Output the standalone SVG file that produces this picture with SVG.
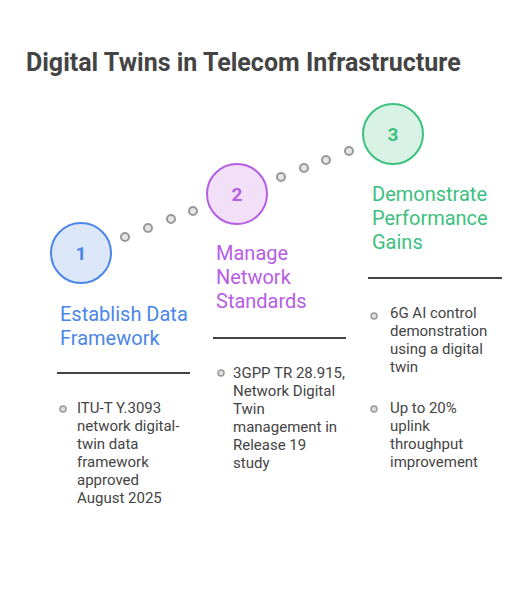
<svg xmlns="http://www.w3.org/2000/svg" width="526" height="591" viewBox="0 0 526 591">
<style>
.title{font-family:Roboto,"Liberation Sans",sans-serif;font-weight:bold;font-size:25px;fill:#444}
.lbl{font-family:Roboto,"Liberation Sans",sans-serif;font-size:20px}
.num{font-family:Roboto,"Liberation Sans",sans-serif;font-weight:bold;font-size:19px;text-anchor:middle}
.body{font-family:Roboto,"Liberation Sans",sans-serif;font-size:15px;fill:#444}
.dot{fill:#e6e6e6;stroke:#999;stroke-width:2}
.bul{fill:#ddd;stroke:#999;stroke-width:1.5}
.rule{stroke:#444;stroke-width:2}
</style>
<rect width="526" height="591" fill="#fff"/>
<text class="title" x="26" y="71">Digital Twins in Telecom Infrastructure</text>
<g id="connectors">
<circle class="dot" cx="125" cy="237" r="4"/>
<circle class="dot" cx="148" cy="228" r="4"/>
<circle class="dot" cx="171" cy="219" r="4"/>
<circle class="dot" cx="193" cy="211" r="4"/>
<circle class="dot" cx="281" cy="177" r="4"/>
<circle class="dot" cx="304" cy="168" r="4"/>
<circle class="dot" cx="326" cy="160" r="4"/>
<circle class="dot" cx="349" cy="151" r="4"/>
</g>
<g id="step1">
<circle cx="81" cy="253" r="30" fill="#dce8fa" stroke="#4a86e8" stroke-width="2"/>
<text class="num" x="81" y="260" fill="#4a86e8">1</text>
<text class="lbl" fill="#4a86e8"><tspan x="60" y="321">Establish Data</tspan><tspan x="60" y="345">Framework</tspan></text>
<line class="rule" x1="57" y1="373" x2="190" y2="373"/>
<circle class="bul" cx="63" cy="409" r="3"/>
<text class="body"><tspan x="77" y="413">ITU-T Y.3093</tspan><tspan x="77" y="431">network digital-</tspan><tspan x="77" y="449">twin data</tspan><tspan x="77" y="467">framework</tspan><tspan x="77" y="485">approved</tspan><tspan x="77" y="503">August 2025</tspan></text>
</g>
<g id="step2">
<circle cx="237" cy="194" r="30" fill="#f2dff8" stroke="#b65de6" stroke-width="2"/>
<text class="num" x="237" y="201" fill="#b65de6">2</text>
<text class="lbl" fill="#b65de6"><tspan x="216" y="260">Manage</tspan><tspan x="216" y="284">Network</tspan><tspan x="216" y="308">Standards</tspan></text>
<line class="rule" x1="213" y1="338" x2="346" y2="338"/>
<circle class="bul" cx="221" cy="373" r="3"/>
<text class="body"><tspan x="233" y="378">3GPP TR 28.915,</tspan><tspan x="233" y="396">Network Digital</tspan><tspan x="233" y="414">Twin</tspan><tspan x="233" y="432">management in</tspan><tspan x="233" y="450">Release 19</tspan><tspan x="233" y="468">study</tspan></text>
</g>
<g id="step3">
<circle cx="393" cy="134" r="30" fill="#d9f2e6" stroke="#3cc07e" stroke-width="2"/>
<text class="num" x="393" y="141" fill="#3cc07e">3</text>
<text class="lbl" fill="#3cc07e"><tspan x="372" y="201">Demonstrate</tspan><tspan x="372" y="225">Performance</tspan><tspan x="372" y="249">Gains</tspan></text>
<line class="rule" x1="368" y1="278" x2="502" y2="278"/>
<circle class="bul" cx="374" cy="316" r="3"/>
<text class="body"><tspan x="390" y="318">6G AI control</tspan><tspan x="390" y="336">demonstration</tspan><tspan x="390" y="354">using a digital</tspan><tspan x="390" y="372">twin</tspan></text>
<circle class="bul" cx="374" cy="409" r="3"/>
<text class="body"><tspan x="390" y="413">Up to 20%</tspan><tspan x="390" y="431">uplink</tspan><tspan x="390" y="449">throughput</tspan><tspan x="390" y="467">improvement</tspan></text>
</g>
</svg>
